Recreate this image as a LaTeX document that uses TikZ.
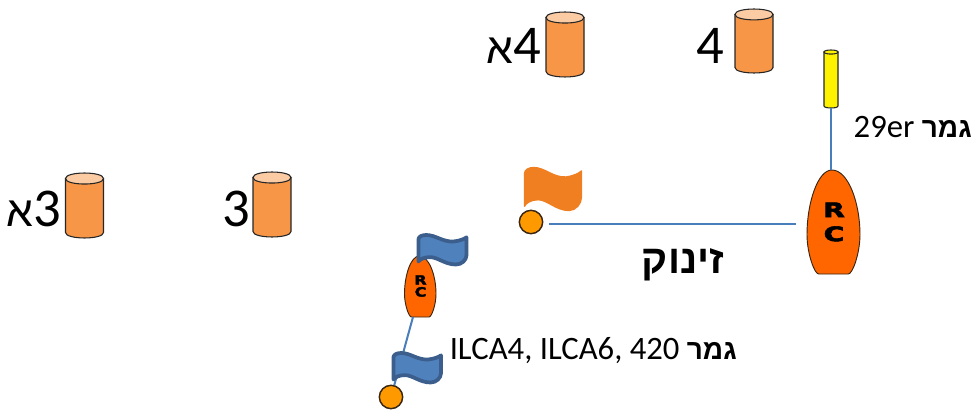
\documentclass[tikz,border=0pt]{standalone}
\usepackage{fontspec}
\usetikzlibrary{shapes.geometric}
\setmainfont{Carlito}
\newfontfamily\hebb[Script=Hebrew]{Liberation Sans}[BoldFont={Liberation Sans Bold}]
\newfontfamily\rcfont{DejaVu Sans Bold}[FakeBold=3]
\TeXXeTstate=1
\definecolor{lineblue}{HTML}{4A7EBB}
\definecolor{flagblue}{HTML}{4F81BD}
\definecolor{flagedge}{HTML}{3B5E8C}
\definecolor{flagorange}{HTML}{F07F22}
\definecolor{cylbody}{HTML}{F79646}
\definecolor{cyltop}{HTML}{FBCBA3}
\definecolor{boatfill}{HTML}{FF6600}
\definecolor{pinfill}{HTML}{FF9900}
\tikzset{
  anchorbox/.style={inner sep=0pt, outer sep=0pt},
  pin/.style={circle, draw=black!70!brown, line width=1.1pt, fill=pinfill, inner sep=0pt, minimum size=17.5pt},
  course/.style={draw=lineblue, line width=1.5pt},
  big/.style={font=\fontsize{41}{41}\selectfont, inner sep=0pt, anchor=center},
  label/.style={font=\fontsize{24.5}{28}\selectfont, inner sep=0pt},
  boat/.style={fill=boatfill, draw=black!70!brown, line width=0.7pt},
  blueflag/.style={fill=flagblue, draw=flagedge, line width=2.8pt, line join=round},
  orangeflag/.style={fill=flagorange, draw=flagorange, line width=1pt, line join=round},
  drumline/.style={draw=black!85, line width=0.8pt},
}
% unit-square drum: #1 body colour, #2 top colour, #3 relative ellipse half height
\newcommand{\drumshape}[3]{%
  \path[drumline, fill=#1] (0,#3) -- (0,{1-#3})
    .. controls (0,{1-#3+1.33*#3}) and (1,{1-#3+1.33*#3}) .. (1,{1-#3})
    -- (1,#3) -- cycle;
  \path[drumline, fill=#2] (0,#3)
    .. controls (0,{#3-1.33*#3}) and (1,{#3-1.33*#3}) .. (1,#3)
    .. controls (1,{#3+1.33*#3}) and (0,{#3+1.33*#3}) .. (0,#3) -- cycle;}
\newcommand{\flagshape}[1]{%
  \path[#1] (0,.14) .. controls (0,.05) and (.08,0) .. (.16,0)
    .. controls (.36,0) and (.5,.24) .. (.73,.22)
    .. controls (.85,.2) and (.95,.14) .. (1,.08)
    -- (1,.68) .. controls (1,.85) and (.9,1) .. (.78,1)
    .. controls (.55,1) and (.4,.75) .. (.24,.75)
    .. controls (.12,.75) and (.03,.82) .. (0,.9) -- cycle;}
\newcommand{\boatshape}{%
  \path[boat] (.47,0) .. controls (.78,0) and (1,.32) .. (1,.62)
    .. controls (1,.8) and (.86,1) .. (.78,1)
    -- (.22,1) .. controls (.14,1) and (0,.8) .. (0,.62)
    .. controls (0,.32) and (.2,0) .. (.47,0) -- cycle;}
\begin{document}
\begin{tikzpicture}[x=0.75pt,y=-0.75pt]
\useasboundingbox (0,0) rectangle (979,410);

% barrels
\begin{scope}[shift={(546,12)},xscale=38,yscale=65]\drumshape{cylbody}{cyltop}{.085}\end{scope}
\begin{scope}[shift={(735,9)},xscale=38,yscale=64]\drumshape{cylbody}{cyltop}{.085}\end{scope}
\begin{scope}[shift={(253,172)},xscale=38,yscale=65]\drumshape{cylbody}{cyltop}{.085}\end{scope}
\begin{scope}[shift={(65.5,173)},xscale=38,yscale=65]\drumshape{cylbody}{cyltop}{.085}\end{scope}
\node[big, anchor=east] (t4a) at (541,46) {{\hebb\fontsize{32}{32}\selectfont א}4};
\node[big] (t4) at (710,46) {4};
\node[big] (t3) at (236,209) {3};
\node[big, anchor=east] (t3a) at (61,209) {{\hebb\fontsize{32}{32}\selectfont א}3};

% finish mark (29er)
\begin{scope}[shift={(824,50)},xscale=14,yscale=58]\drumshape{yellow}{yellow}{.035}\end{scope}
\node[anchorbox, minimum width=10.5pt, minimum height=43.5pt] (fin) at (831,79) {};

% committee boats
\begin{scope}[shift={(807,170)},xscale=53,yscale=104]\boatshape\end{scope}
\node[anchorbox, minimum width=39.75pt, minimum height=78pt] (rcbig) at (833.5,222) {};
\node[font=\rcfont\fontsize{15}{18}\selectfont, align=center, inner sep=0pt, xscale=1.4] (rcbigt) at (834,222) {R\\C};
\begin{scope}[shift={(404.5,256)},xscale=31.5,yscale=61]\boatshape\end{scope}
\node[anchorbox, minimum width=23.6pt, minimum height=45.75pt] (rcsmall) at (420,286.5) {};
\node[font=\rcfont\fontsize{9.5}{9}\selectfont, align=center, inner sep=0pt, xscale=1.25] (rcsmallt) at (420.5,286) {R\\C};

% pins
\node[pin] (pinstart) at (531,222) {};
\node[pin] (pinfin) at (391,397) {};

% connectors
\draw[course] (fin.south) -- (fin.south |- rcbig.north);
\draw[course, shorten <=4.5pt, shorten >=8.25pt] ([yshift=-1.5pt]pinstart.east) -- ([yshift=-1.5pt]rcbig.west);
\draw[course] (rcsmall.south) ++(-7,0) -- (pinfin);

% flags
\begin{scope}[shift={(524.5,167.5)},xscale=57,yscale=43]\flagshape{orangeflag}\end{scope}
\begin{scope}[shift={(418.5,235)},xscale=48,yscale=29.5]\flagshape{blueflag}\end{scope}
\begin{scope}[shift={(393.5,353)},xscale=47.5,yscale=29.5]\flagshape{blueflag}\end{scope}

% labels
\node[font=\hebb\bfseries\fontsize{30}{33}\selectfont, inner sep=0pt] (start) at (683,265) {\beginR זינוק\endR};
\node[label, anchor=east] (finsmall) at (737,350.5) {ILCA4, ILCA6, 420 {\hebb\bfseries\fontsize{21}{24}\selectfont\beginR גמר\endR}};
\node[label, anchor=east] (fin29) at (972,127) {29er {\hebb\bfseries\fontsize{21}{24}\selectfont\beginR גמר\endR}};
\end{tikzpicture}
\end{document}
